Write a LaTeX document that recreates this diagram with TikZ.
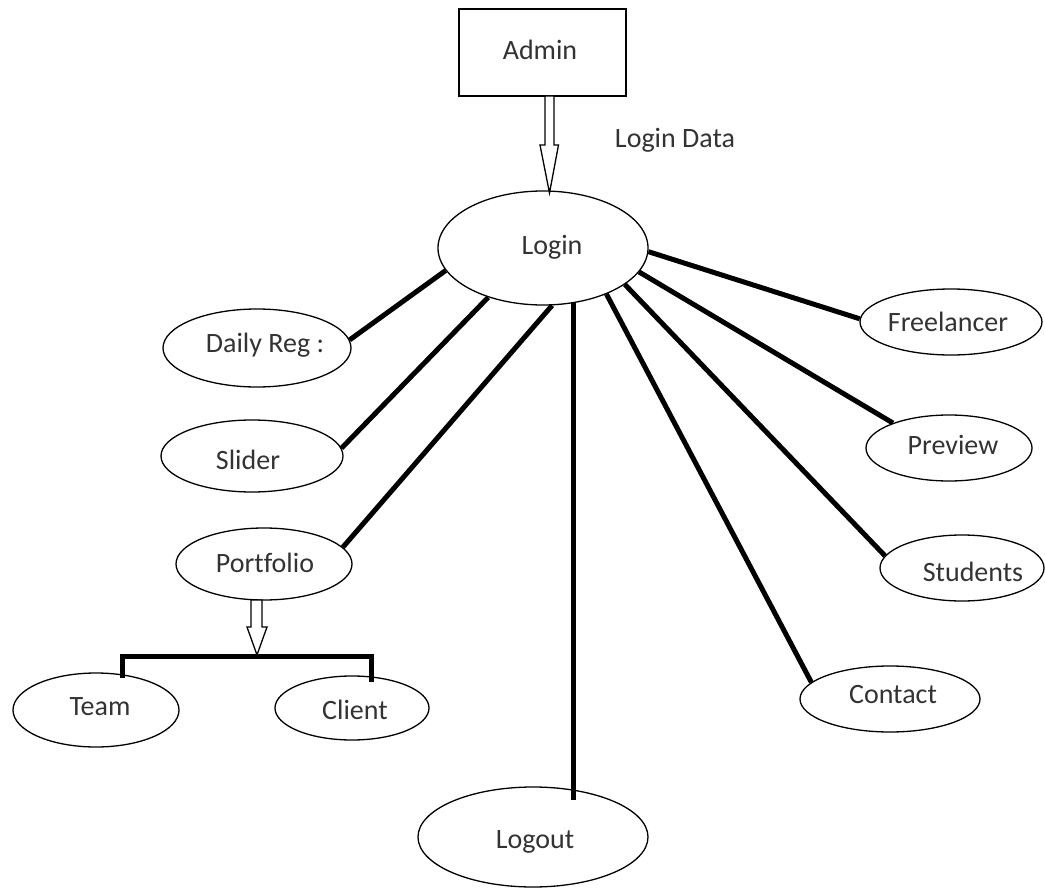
\documentclass[tikz,border=0pt]{standalone}
\usepackage{fontspec}
\setmainfont[Ligatures=NoCommon]{Carlito}
\usetikzlibrary{shapes.geometric,calc}
\begin{document}
\begin{tikzpicture}[x=1pt,y=-1pt,
  oval/.style={draw=black, line width=1.3pt, ellipse, inner sep=0pt},
  boxnode/.style={draw=black, line width=1.3pt, rectangle, inner sep=0pt},
  lbl/.style={font=\fontsize{28}{34}\selectfont, text=black!80, inner sep=0pt},
  thickline/.style={line width=5pt, draw=black},
  hollow/.style={draw=black, line width=1.3pt, fill=white, line join=miter}]
\useasboundingbox[fill=white] (0,0) rectangle (1045,888);

% nodes
\node[boxnode, minimum width=167pt, minimum height=87pt] (admin) at (542.5,52.5) {};
\node[lbl] (adminT) at (540,50) {Admin};
\node[lbl] (logindata) at (675,140) {Login Data};

\node[oval, minimum width=210pt, minimum height=114pt] (login) at (543,248) {};
\node[lbl] (loginT) at (552,247) {Login};

\node[oval, minimum width=188pt, minimum height=78pt] (daily) at (257,348) {};
\node[lbl] (dailyT) at (265,345) {Daily Reg :};

\node[oval, minimum width=182pt, minimum height=72pt] (slider) at (252,456) {};
\node[lbl] (sliderT) at (248,460) {Slider};

\node[oval, minimum width=176pt, minimum height=72pt] (portfolio) at (264,564) {};
\node[lbl] (portfolioT) at (265,563) {Portfolio};

\node[oval, minimum width=166pt, minimum height=74pt] (team) at (96,710) {};
\node[lbl] (teamT) at (100,707) {Team};

\node[oval, minimum width=154pt, minimum height=64pt] (client) at (352,708) {};
\node[lbl] (clientT) at (355,710) {Client};

\node[oval, minimum width=230pt, minimum height=100pt] (logout) at (533,837) {};
\node[lbl] (logoutT) at (535,842) {Logout};

\node[oval, minimum width=180pt, minimum height=66pt] (contact) at (890,699) {};
\node[lbl] (contactT) at (893,695) {Contact};

\node[oval, minimum width=164pt, minimum height=66pt] (students) at (962,568) {};
\node[lbl] (studentsT) at (973,572) {Students};

\node[oval, minimum width=166pt, minimum height=66pt] (preview) at (949,448) {};
\node[lbl] (previewT) at (953,445) {Preview};

\node[oval, minimum width=182pt, minimum height=66pt] (freelancer) at (951,322) {};
\node[lbl] (freelancerT) at (948,322) {Freelancer};

% hollow arrow Admin -> Login
\coordinate (aTop) at (549.5,96);
\coordinate (aTip) at (549.5,193);
\draw[hollow] (aTop) ++(-4.5,0) -- ++(0,49) -- ++(-5,0) -- (aTip) -- ++(9,-48) -- ++(-4.5,0) -- ++(0,-49) -- cycle;

% thick connectors
\draw[thickline] (login.193.9) -- (daily.5.4);
\draw[thickline] (login.222.7) -- (slider.5.4);
\draw[thickline] (login.279) -- (portfolio.12.3);
\coordinate (logoutEnd) at (573,800);
\draw[thickline] (logoutEnd |- login.300) -- (logoutEnd);
\draw[thickline] (login.324.9) -- (contact.168);
\draw[thickline] (login.336.4) -- (students.171);
\draw[thickline] (login.346.1) -- (preview.156.8);
\draw[thickline] (login.358.9) -- (freelancer.178.7);

% hollow arrow Portfolio -> bar
\coordinate (pTop) at (256.5,600);
\coordinate (pTip) at (257,655);
\draw[hollow] (pTop) ++(-5.5,0) -- ++(0,27) -- ++(-4,0) -- (pTip) -- ++(10,-28) -- ++(-5,0) -- ++(0,-27) -- cycle;

% T-bar
\coordinate (tL) at (122,656);
\coordinate (tR) at (371,656);
\coordinate (tLe) at (122,678);
\coordinate (tRe) at (371,682);
\draw[thickline, line join=miter] (tLe) -- (tL) -- (tR) -- (tRe);
\end{tikzpicture}
\end{document}
